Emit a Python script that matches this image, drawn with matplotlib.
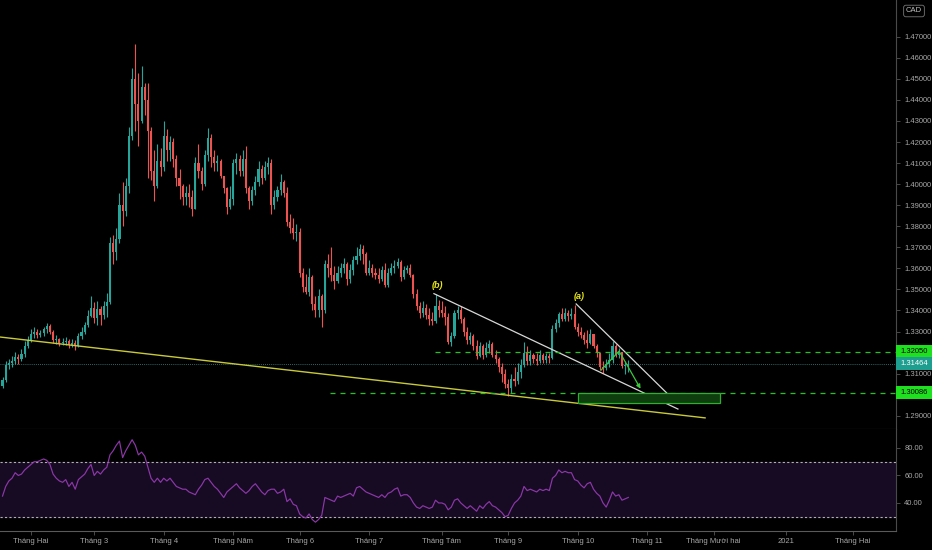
import numpy as np
import matplotlib
matplotlib.use("Agg")
import matplotlib.pyplot as plt
import matplotlib.transforms as mtransforms
from matplotlib import font_manager
from matplotlib.patches import Rectangle

# USDCAD daily, 21 Jan - 23 Oct 2020 (index 0 = 3 Feb)
jan_close = [1.3070, 1.3140, 1.3150, 1.3160, 1.3180, 1.3170, 1.3195, 1.3230, 1.3260]
jan_high = [1.3085, 1.3160, 1.3170, 1.3185, 1.3205, 1.3195, 1.3215, 1.3255, 1.3280]
jan_low = [1.3030, 1.3060, 1.3120, 1.3130, 1.3145, 1.3145, 1.3160, 1.3180, 1.3220]

feb_close = [1.3290, 1.3300, 1.3285, 1.3295, 1.3310, 1.3325, 1.3300, 1.3260, 1.3265, 1.3245,
             1.3250, 1.3255, 1.3235, 1.3245, 1.3230, 1.3280, 1.3300, 1.3330, 1.3375, 1.3410]
feb_high = [1.3310, 1.3320, 1.3310, 1.3305, 1.3320, 1.3340, 1.3335, 1.3305, 1.3285, 1.3270,
            1.3270, 1.3275, 1.3265, 1.3265, 1.3260, 1.3295, 1.3320, 1.3345, 1.3400, 1.3470]
feb_low = [1.3250, 1.3270, 1.3270, 1.3275, 1.3280, 1.3295, 1.3290, 1.3245, 1.3240, 1.3230,
           1.3235, 1.3235, 1.3220, 1.3225, 1.3210, 1.3225, 1.3265, 1.3290, 1.3320, 1.3370]

mar_close = [1.3365, 1.3405, 1.3380, 1.3420, 1.3440, 1.3720, 1.3680, 1.3740, 1.3900, 1.3870, 1.3990,
             1.4230, 1.4500, 1.4380, 1.4300, 1.4460, 1.4400, 1.4250, 1.4060, 1.3990, 1.4110, 1.4080]
mar_high = [1.3440, 1.3445, 1.3420, 1.3445, 1.3485, 1.3750, 1.3760, 1.3790, 1.3960, 1.4010, 1.4030,
            1.4270, 1.4550, 1.4667, 1.4530, 1.4560, 1.4480, 1.4480, 1.4270, 1.4160, 1.4190, 1.4170]
mar_low = [1.3340, 1.3330, 1.3330, 1.3360, 1.3370, 1.3430, 1.3620, 1.3640, 1.3720, 1.3800, 1.3850,
           1.3960, 1.4210, 1.4250, 1.4180, 1.4290, 1.4330, 1.4030, 1.4020, 1.3920, 1.3980, 1.4040]

apr_close = [1.4230, 1.4160, 1.4200, 1.4120, 1.4030, 1.3990, 1.3940, 1.3960, 1.3940, 1.3880, 1.4100,
             1.4060, 1.4000, 1.4140, 1.4220, 1.4130, 1.4100, 1.4110, 1.4040, 1.3980, 1.3890, 1.3930]
apr_high = [1.4300, 1.4260, 1.4230, 1.4220, 1.4140, 1.4070, 1.4000, 1.3990, 1.4000, 1.3970, 1.4130,
            1.4190, 1.4080, 1.4160, 1.4265, 1.4240, 1.4160, 1.4140, 1.4120, 1.4040, 1.3985, 1.3990]
apr_low = [1.4060, 1.4110, 1.4110, 1.4080, 1.3990, 1.3930, 1.3900, 1.3900, 1.3890, 1.3850, 1.3880,
           1.4030, 1.3970, 1.3990, 1.4110, 1.4080, 1.4060, 1.4060, 1.4030, 1.3960, 1.3860, 1.3880]

may_close = [1.4100, 1.4120, 1.4060, 1.4120, 1.3980, 1.3920, 1.3970, 1.4010, 1.4070, 1.4030, 1.4080,
             1.4100, 1.3900, 1.3940, 1.3970, 1.4010, 1.3960, 1.3820, 1.3790, 1.3770, 1.3775]
may_high = [1.4120, 1.4150, 1.4140, 1.4160, 1.4180, 1.3990, 1.3990, 1.4040, 1.4110, 1.4090, 1.4110,
            1.4130, 1.4120, 1.3970, 1.3990, 1.4050, 1.4020, 1.3985, 1.3860, 1.3840, 1.3810]
may_low = [1.3900, 1.4050, 1.4040, 1.4040, 1.3960, 1.3880, 1.3900, 1.3950, 1.3990, 1.4000, 1.4020,
           1.4050, 1.3860, 1.3880, 1.3920, 1.3950, 1.3940, 1.3800, 1.3770, 1.3740, 1.3730]

jun_close = [1.3580, 1.3510, 1.3490, 1.3560, 1.3430, 1.3400, 1.3470, 1.3400, 1.3620, 1.3600, 1.3570,
             1.3540, 1.3580, 1.3600, 1.3620, 1.3550, 1.3590, 1.3640, 1.3660, 1.3690, 1.3670, 1.3580]
jun_high = [1.3790, 1.3600, 1.3575, 1.3600, 1.3570, 1.3470, 1.3500, 1.3480, 1.3640, 1.3670, 1.3700,
            1.3610, 1.3610, 1.3625, 1.3650, 1.3630, 1.3620, 1.3660, 1.3700, 1.3715, 1.3710, 1.3680]
jun_low = [1.3560, 1.3490, 1.3480, 1.3470, 1.3400, 1.3370, 1.3370, 1.3320, 1.3390, 1.3560, 1.3540,
           1.3500, 1.3530, 1.3560, 1.3580, 1.3520, 1.3530, 1.3570, 1.3620, 1.3640, 1.3620, 1.3570]

jul_close = [1.3600, 1.3580, 1.3570, 1.3550, 1.3590, 1.3520, 1.3580, 1.3600, 1.3610, 1.3630, 1.3560, 1.3590,
             1.3600, 1.3570, 1.3480, 1.3420, 1.3390, 1.3410, 1.3380, 1.3360, 1.3350, 1.3420, 1.3400]
jul_high = [1.3640, 1.3620, 1.3600, 1.3600, 1.3610, 1.3625, 1.3600, 1.3625, 1.3640, 1.3650, 1.3640, 1.3610,
            1.3615, 1.3620, 1.3575, 1.3500, 1.3440, 1.3445, 1.3430, 1.3410, 1.3395, 1.3480, 1.3450]
jul_low = [1.3570, 1.3560, 1.3550, 1.3530, 1.3540, 1.3510, 1.3510, 1.3570, 1.3580, 1.3600, 1.3540, 1.3550,
           1.3580, 1.3560, 1.3460, 1.3400, 1.3365, 1.3370, 1.3360, 1.3330, 1.3330, 1.3340, 1.3370]

aug_close = [1.3390, 1.3370, 1.3250, 1.3280, 1.3390, 1.3400, 1.3360, 1.3300, 1.3260, 1.3280, 1.3230,
             1.3185, 1.3230, 1.3190, 1.3220, 1.3240, 1.3190, 1.3170, 1.3130, 1.3100, 1.3050]
aug_high = [1.3445, 1.3420, 1.3390, 1.3300, 1.3400, 1.3420, 1.3420, 1.3370, 1.3320, 1.3300, 1.3290,
            1.3260, 1.3250, 1.3240, 1.3250, 1.3260, 1.3250, 1.3210, 1.3180, 1.3150, 1.3120]
aug_low = [1.3370, 1.3330, 1.3240, 1.3230, 1.3270, 1.3360, 1.3340, 1.3280, 1.3240, 1.3240, 1.3210,
           1.3170, 1.3180, 1.3170, 1.3180, 1.3200, 1.3180, 1.3150, 1.3110, 1.3060, 1.3030]

sep_close = [1.3030, 1.3075, 1.3065, 1.3110, 1.3140, 1.3200, 1.3160, 1.3190, 1.3170, 1.3160, 1.3190,
             1.3165, 1.3185, 1.3175, 1.3310, 1.3340, 1.3385, 1.3360, 1.3390, 1.3375, 1.3385, 1.3320]
sep_high = [1.3075, 1.3100, 1.3130, 1.3150, 1.3170, 1.3250, 1.3230, 1.3210, 1.3200, 1.3200, 1.3210,
            1.3200, 1.3200, 1.3200, 1.3330, 1.3360, 1.3395, 1.3410, 1.3410, 1.3400, 1.3410, 1.3425]
sep_low = [1.2995, 1.3010, 1.3040, 1.3050, 1.3080, 1.3130, 1.3140, 1.3140, 1.3150, 1.3140, 1.3150,
           1.3150, 1.3150, 1.3150, 1.3170, 1.3300, 1.3320, 1.3350, 1.3350, 1.3350, 1.3360, 1.3310]

oct_close = [1.3300, 1.3285, 1.3260, 1.3245, 1.3290, 1.3230, 1.3200, 1.3130, 1.3125,
             1.3145, 1.3165, 1.3230, 1.3190, 1.3205, 1.3135, 1.3140, 1.3146]
oct_high = [1.3340, 1.3320, 1.3300, 1.3305, 1.3310, 1.3290, 1.3240, 1.3200, 1.3160,
            1.3170, 1.3200, 1.3255, 1.3240, 1.3220, 1.3200, 1.3160, 1.3165]
oct_low = [1.3280, 1.3270, 1.3240, 1.3220, 1.3240, 1.3220, 1.3180, 1.3115, 1.3105,
           1.3115, 1.3130, 1.3150, 1.3180, 1.3175, 1.3125, 1.3100, 1.3110]

first_open = 1.3040

# RSI(14)
rsi_jan = [45, 52, 56, 58, 62, 60, 61, 64, 66]
rsi_feb = [68, 70, 70, 71, 72, 71, 68, 61, 58, 56, 55, 57, 52, 55, 50, 57, 59, 61, 65, 68]
rsi_mar = [60, 63, 61, 64, 66, 75, 78, 82, 85, 73, 78, 82, 86, 82, 75, 77, 74, 66, 58, 55, 58, 55]
rsi_apr = [58, 56, 58, 55, 52, 51, 50, 50, 48, 47, 46, 50, 53, 57, 58, 55, 52, 50, 47, 44, 48, 50]
rsi_may = [52, 54, 51, 49, 47, 49, 52, 54, 51, 48, 46, 49, 50, 50, 47, 48, 50, 41, 43, 39, 38]
rsi_jun = [32, 30, 29, 32, 28, 26, 28, 31, 44, 43, 42, 41, 45, 44, 45, 46, 47, 45, 51, 52, 50, 48]
rsi_jul = [47, 46, 45, 44, 46, 44, 47, 48, 50, 51, 45, 46, 46, 44, 40, 37, 36, 38, 37, 36, 37, 42, 40]
rsi_aug = [40, 39, 35, 37, 42, 43, 40, 38, 36, 38, 36, 34, 38, 36, 39, 41, 38, 37, 35, 33, 30]
rsi_sep = [31, 36, 40, 42, 45, 52, 49, 50, 49, 48, 50, 49, 50, 49, 58, 60, 64, 62, 63, 62, 62, 57]
rsi_oct = [56, 53, 51, 54, 55, 50, 47, 45, 40, 37, 42, 48, 45, 46, 42, 43, 44]

month_pos = [0, 20, 42, 64, 85, 107, 130, 151, 173, 195, 216, 239, 260]
month_labels = ["Tháng Hai", "Tháng 3", "Tháng 4", "Tháng Năm", "Tháng 6", "Tháng 7", "Tháng Tám",
                "Tháng 9", "Tháng 10", "Tháng 11", "Tháng Mười hai", "2021", "Tháng Hai"]

# drawings on the chart
yellow_line = ([-9.8, 213.3], [1.3274, 1.2890])
line_b = ([127.5, 204.7], [1.3480, 1.2932])
line_a = ([172.5, 202.8], [1.3431, 1.2984])
arrow_path = ([180.4, 186.1, 193.3], [1.3117, 1.3207, 1.3017])
level_hi, level_hi_start = 1.32050, 127.8
level_lo, level_lo_start = 1.30086, 94.6
box_x, box_y = (173.1, 218.0), (1.2961, 1.3008)
last_price = 1.31464

closes = np.array(jan_close + feb_close + mar_close + apr_close + may_close + jun_close +
                  jul_close + aug_close + sep_close + oct_close)
highs = np.array(jan_high + feb_high + mar_high + apr_high + may_high + jun_high +
                 jul_high + aug_high + sep_high + oct_high)
lows = np.array(jan_low + feb_low + mar_low + apr_low + may_low + jun_low +
                jul_low + aug_low + sep_low + oct_low)
rsi = np.array(rsi_jan + rsi_feb + rsi_mar + rsi_apr + rsi_may + rsi_jun +
               rsi_jul + rsi_aug + rsi_sep + rsi_oct)
opens = np.concatenate([[first_open], closes[:-1]])
highs = np.maximum(highs, np.maximum(opens, closes))
lows = np.minimum(lows, np.minimum(opens, closes))
x = np.arange(len(closes)) - 9

names = {f.name for f in font_manager.fontManager.ttflist}
narrow = "Liberation Sans Narrow" if "Liberation Sans Narrow" in names else "Liberation Sans"
lab_size = 6.5 if narrow == "Liberation Sans Narrow" else 5.5
plt.rcParams["font.family"] = [narrow, "DejaVu Sans"]

bg = "#000000"
txt = "#a8a8a8"
up_col, dn_col = "#26a69a", "#ef5350"

fig = plt.figure(figsize=(9.32, 5.5), dpi=100, facecolor=bg)
ax = fig.add_axes([0, 0.22, 896 / 932, 0.78], facecolor=bg)
ax2 = fig.add_axes([0, 19 / 550, 896 / 932, 102 / 550], facecolor=bg, sharex=ax)

# candles
cols = np.where(closes >= opens, up_col, dn_col)
ax.vlines(x, lows, highs, colors=cols, linewidth=0.8, zorder=2)
ax.bar(x, np.maximum(np.abs(closes - opens), 0.00015), bottom=np.minimum(opens, closes),
       width=0.66, color=cols, linewidth=0, zorder=3)

# drawings
ax.plot(*yellow_line, color="#c9c93a", lw=1.0, zorder=4)
ax.plot(*line_b, color="#d8d8d8", lw=0.9, zorder=4)
ax.plot(*line_a, color="#d8d8d8", lw=0.9, zorder=4)
ax.plot(arrow_path[0][:2], arrow_path[1][:2], color="#3cc83c", lw=0.9, zorder=5)
ax.annotate("", xy=(arrow_path[0][2], arrow_path[1][2]), xytext=(arrow_path[0][1], arrow_path[1][1]),
            arrowprops=dict(arrowstyle="-|>", color="#3cc83c", lw=0.9, mutation_scale=6), zorder=5)
ax.plot([level_hi_start, 280], [level_hi, level_hi], color="#22c322", lw=0.9, ls=(0, (4, 4)), zorder=4)
ax.plot([level_lo_start, 280], [level_lo, level_lo], color="#22c322", lw=0.9, ls=(0, (4, 4)), zorder=4)
ax.axhline(last_price, color="#3a8f86", lw=0.6, ls=(0, (1, 1.5)), zorder=1)
ax.add_patch(Rectangle((box_x[0], box_y[0]), box_x[1] - box_x[0], box_y[1] - box_y[0],
                       facecolor="#0e3d0e", edgecolor="#2fae2f", lw=0.9, zorder=4))
ax.text(line_b[0][0] + 1, line_b[1][0] + 0.0015, "(b)", color="#e6e619", fontsize=6.5,
        fontstyle="italic", fontweight="bold", ha="center", va="bottom", zorder=6)
ax.text(line_a[0][0] + 1, line_a[1][0] + 0.0012, "(a)", color="#e6e619", fontsize=6.5,
        fontstyle="italic", fontweight="bold", ha="center", va="bottom", zorder=6)

ax.set_xlim(-9.8, 273.7)
ax.set_ylim(1.28372, 1.48743)
ticks = np.round(np.arange(1.29, 1.4701, 0.01), 2)
tags = [level_hi, level_lo, last_price]
ax.yaxis.tick_right()
ax.set_yticks(ticks)
# labels hidden behind the price tags are left empty
ax.set_yticklabels(["" if min(abs(t - v) for v in tags) < 0.004 else f"{t:.5f}" for t in ticks])
ax.tick_params(axis="y", colors="#555555", labelcolor=txt, labelsize=lab_size, length=3, width=0.6, pad=3)
ax.tick_params(axis="x", bottom=False, labelbottom=False)
for s in ["top", "left"]:
    ax.spines[s].set_visible(False)
ax.spines["right"].set_color("#4a4a4a")
ax.spines["bottom"].set_color("#5a5a5a")

# price tags on the axis
trans = mtransforms.blended_transform_factory(ax.transAxes, ax.transData)
tag_h = 13 / 2106
for val, fc, tc in [(level_hi, "#1ee01e", "#000000"), (level_lo, "#1ee01e", "#000000"),
                    (last_price, "#1e9e8e", "#ffffff")]:
    ax.add_patch(Rectangle((1.0, val - tag_h / 2), 36 / 896, tag_h, transform=trans,
                           facecolor=fc, edgecolor="none", clip_on=False, zorder=9))
    ax.text(1.0 + 18 / 896, val, f"{val:.5f}", transform=trans, fontsize=lab_size, color=tc,
            va="center", ha="center", clip_on=False, zorder=10)

# RSI pane
ax2.axhspan(30, 70, color="#170b24", zorder=0)
ax2.axhline(70, color="#b0b0b0", lw=0.8, ls=(0, (2, 2)))
ax2.axhline(30, color="#b0b0b0", lw=0.8, ls=(0, (2, 2)))
ax2.plot(x, rsi, color="#8e37aa", lw=0.85)
ax2.set_ylim(19.6, 93.8)
ax2.yaxis.tick_right()
ax2.set_yticks([40, 60, 80])
ax2.set_yticklabels(["40.00", "60.00", "80.00"])
ax2.tick_params(axis="y", colors="#555555", labelcolor=txt, labelsize=lab_size, length=3, width=0.6, pad=3)
ax2.set_xticks(month_pos)
ax2.set_xticklabels(month_labels)
ax2.tick_params(axis="x", colors="#555555", labelcolor=txt, labelsize=lab_size, length=3, width=0.6, pad=2)
for s in ["top", "left"]:
    ax2.spines[s].set_visible(False)
ax2.spines["right"].set_color("#4a4a4a")
ax2.spines["bottom"].set_color("#5a5a5a")

fig.text(914 / 932, 1 - 11 / 550, "CAD", color="#c0c0c0", fontsize=lab_size, ha="center", va="center",
         bbox=dict(boxstyle="round,pad=0.3", facecolor=bg, edgecolor="#777777", lw=0.6), zorder=10)

fig.savefig("out.png", dpi=100, facecolor=bg)
